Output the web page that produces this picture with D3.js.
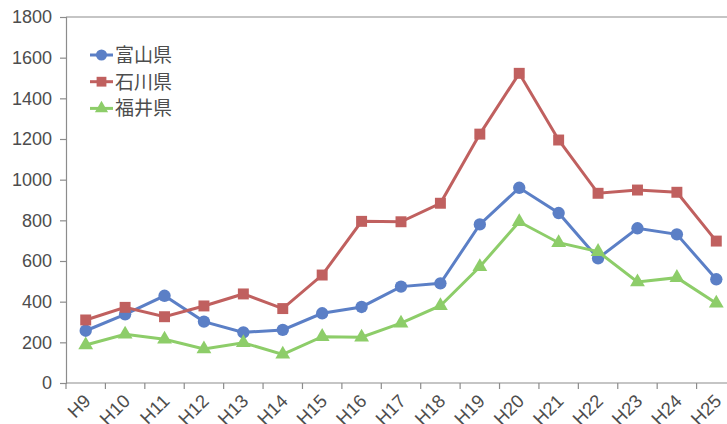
<!DOCTYPE html>
<html>
<head>
<meta charset="utf-8">
<script src="https://cdn.jsdelivr.net/npm/d3@7"></script>
<style>
  body { margin: 0; background: #fff; overflow: hidden; }
  svg { display: block; overflow: hidden; }
  text { font-family: "Liberation Sans", Arial, "Noto Sans CJK JP", sans-serif; fill: #4d4d4d; }
</style>
</head>
<body>
<div id="chart"></div>
<script>
var years = ['H9','H10','H11','H12','H13','H14','H15','H16','H17','H18','H19','H20','H21','H22','H23','H24','H25'];
var toyama   = [257, 338, 429, 302, 249, 261, 343, 374, 474, 490, 780, 960, 836, 613, 761, 731, 510];
var ishikawa = [310, 372, 326, 379, 438, 366, 531, 795, 793, 884, 1224, 1523, 1195, 933, 949, 938, 698];
var fukui    = [187, 240, 215, 167, 198, 141, 228, 225, 294, 380, 572, 793, 690, 646, 497, 518, 392];
var yTicks   = [0, 200, 400, 600, 800, 1000, 1200, 1400, 1600, 1800];

var series = [
  { name: '富山県', values: toyama,   color: '#5b7fc6', symbol: d3.symbolCircle,   size: 120 },
  { name: '石川県', values: ishikawa, color: '#c0605f', symbol: d3.symbolSquare,   size: 120 },
  { name: '福井県', values: fukui,    color: '#8dcd69', symbol: d3.symbolTriangle, size: 95 }
];

function drawChart() {
  var W = 727, H = 424;
  var plotLeft = 66, plotRight = 736, plotTop = 17, plotBottom = 383;

  var svg = d3.select('#chart').append('svg')
    .attr('width', W).attr('height', H);

  var x = d3.scaleBand().domain(years).range([plotLeft, plotRight]).padding(0);
  var y = d3.scaleLinear().domain([0, 1800]).range([plotBottom, plotTop]);
  var cx = function(i) { return x(years[i]) + x.bandwidth() / 2; };

  // top border
  svg.append('line')
    .attr('x1', plotLeft).attr('x2', plotRight).attr('y1', plotTop).attr('y2', plotTop)
    .attr('stroke', '#8c8c8c').attr('stroke-width', 1.2);

  // y axis
  var yAxis = svg.append('g')
    .attr('transform', 'translate(' + plotLeft + ',0)')
    .call(d3.axisLeft(y).tickValues(yTicks).tickSize(6).tickPadding(8).tickFormat(d3.format('d')));
  yAxis.select('.domain').attr('stroke', '#8c8c8c').attr('stroke-width', 1.2);
  yAxis.selectAll('.tick line').attr('stroke', '#8c8c8c').attr('stroke-width', 1.2);
  yAxis.selectAll('text').style('font-size', '18px').attr('fill', '#4d4d4d');

  // x axis: line, ticks between categories, rotated labels
  svg.append('line')
    .attr('x1', plotLeft).attr('x2', plotRight).attr('y1', plotBottom).attr('y2', plotBottom)
    .attr('stroke', '#8c8c8c').attr('stroke-width', 1.2);
  var bounds = years.map(function(d) { return x(d); }).concat([plotRight]);
  svg.append('g').selectAll('line').data(bounds).enter().append('line')
    .attr('x1', function(d) { return d; }).attr('x2', function(d) { return d; })
    .attr('y1', plotBottom).attr('y2', plotBottom + 6)
    .attr('stroke', '#8c8c8c').attr('stroke-width', 1.2);
  svg.append('g').selectAll('text').data(years).enter().append('text')
    .attr('transform', function(d, i) { return 'translate(' + (cx(i) - 3) + ',' + (plotBottom + 10) + ') rotate(-45)'; })
    .attr('text-anchor', 'end')
    .attr('dy', '0.7em')
    .style('font-size', '18.5px')
    .text(function(d) { return d; });

  // lines and markers
  var line = d3.line()
    .x(function(d, i) { return cx(i); })
    .y(function(d) { return y(d); });

  series.forEach(function(s) {
    svg.append('path')
      .datum(s.values)
      .attr('d', line)
      .attr('fill', 'none')
      .attr('stroke', s.color)
      .attr('stroke-width', 3);
    svg.append('g').selectAll('path').data(s.values).enter().append('path')
      .attr('d', d3.symbol().type(s.symbol).size(s.size))
      .attr('transform', function(d, i) { return 'translate(' + cx(i) + ',' + y(d) + ')'; })
      .attr('fill', s.color);
  });

  // legend
  var legend = svg.append('g').attr('transform', 'translate(90,55)');
  series.forEach(function(s, i) {
    var g = legend.append('g').attr('transform', 'translate(0,' + (i * 26.7) + ')');
    g.append('line').attr('x1', 0).attr('x2', 23).attr('y1', 0).attr('y2', 0)
      .attr('stroke', s.color).attr('stroke-width', 3);
    g.append('path').attr('d', d3.symbol().type(s.symbol).size(s.size * 0.8))
      .attr('transform', 'translate(11.5,0)').attr('fill', s.color);
    g.append('text').attr('x', 25).attr('dy', '0.36em')
      .style('font-size', '19px')
      .style('font-family', '"Noto Sans CJK JP", sans-serif')
      .text(s.name);
  });
}

drawChart();
</script>
</body>
</html>
